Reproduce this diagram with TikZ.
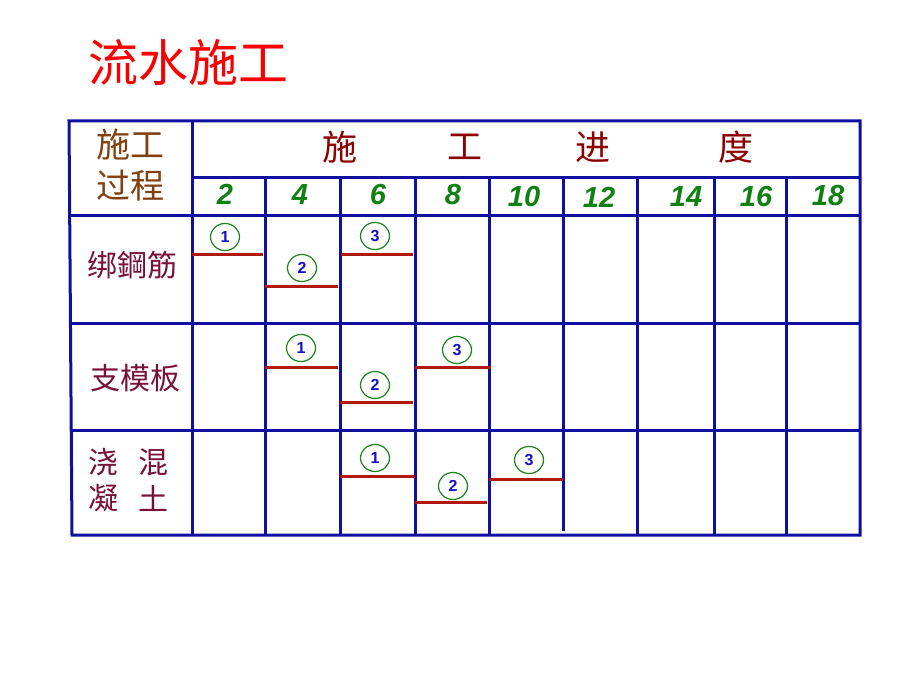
\documentclass[tikz,border=0pt]{standalone}
\usepackage{fontspec}
\setmainfont{Liberation Sans}
\newfontfamily\cjk{Noto Sans CJK SC}
\usetikzlibrary{shapes.geometric}
\definecolor{gridblue}{RGB}{16,16,160}
\definecolor{barred}{RGB}{176,24,16}
\definecolor{numgreen}{RGB}{16,128,16}
\definecolor{hdrbrown}{RGB}{128,64,16}
\definecolor{hdrred}{RGB}{140,0,0}
\definecolor{rowmaroon}{RGB}{120,16,56}
\definecolor{circgreen}{RGB}{30,130,30}
\definecolor{digblue}{RGB}{16,16,200}
\definecolor{titlered}{RGB}{250,0,0}
\begin{document}
\begin{tikzpicture}[x=1pt,y=-1pt,
  gridline/.style={gridblue,line width=3pt},
  bar/.style={barred,line width=3pt},
  num/.style={numgreen,font=\fontsize{29}{30}\selectfont\bfseries\itshape,inner sep=0pt},
  seq/.style={ellipse,draw=circgreen,line width=1.2pt,minimum width=29pt,minimum height=27pt,inner sep=0pt,
    text=digblue,font=\fontsize{16}{17}\selectfont\bfseries},
  hdr/.style={hdrred,font=\fontsize{35}{36}\selectfont\cjk,inner sep=0pt},
  rowlab/.style={rowmaroon,font=\fontsize{30}{31}\selectfont\cjk,inner sep=0pt}]
\useasboundingbox (0,0) rectangle (920,690);

\node[titlered,font=\fontsize{50}{52}\selectfont\cjk,inner sep=0pt] (title) at (188,63) {流水施工};

% grid
\draw[gridline] (69,121) -- (860,121) -- (860,535) -- (72,535) -- cycle;
\draw[gridline] (192,177) -- (860,177);
\draw[gridline] (69,215) -- (860,215);
\draw[gridline] (70,323) -- (860,323);
\draw[gridline] (71,430) -- (860,430);
\draw[gridline] (192,121) -- (192,535);
\foreach \x in {265,340,415,489,637,714,786} \draw[gridline] (\x,177) -- (\x,535);
\draw[gridline] (563,177) -- (563,531);

% headers
\node[hdrbrown,font=\fontsize{34}{36}\selectfont\cjk,inner sep=0pt] (h1) at (130,145) {施工};
\node[hdrbrown,font=\fontsize{34}{36}\selectfont\cjk,inner sep=0pt] (h2) at (130,186) {过程};
\node[hdr] (p1) at (340,147) {施};
\node[hdr] (p2) at (465,147) {工};
\node[hdr] (p3) at (593,147) {进};
\node[hdr] (p4) at (736,147) {度};

\node[num] (n2) at (225,194) {2};
\node[num] (n4) at (300,195) {4};
\node[num] (n6) at (378,195) {6};
\node[num] (n8) at (453,195) {8};
\node[num] (n10) at (524,197) {10};
\node[num] (n12) at (599,197) {12};
\node[num] (n14) at (686,197) {14};
\node[num] (n16) at (756,197) {16};
\node[num] (n18) at (828,196) {18};

% row labels
\node[rowlab] (r1) at (132,265) {绑鋼筋};
\node[rowlab] (r2) at (135,378) {支模板};
\node[rowlab] (r3a) at (103,462) {浇};
\node[rowlab] (r3b) at (153,462) {混};
\node[rowlab] (r3c) at (103,498) {凝};
\node[rowlab] (r3d) at (153,498) {土};

% bars row 1
\draw[bar] (192,254) -- (263,254);
\draw[bar] (265,286) -- (338,286);
\draw[bar] (341,254) -- (413,254);
% row 2
\draw[bar] (265,367) -- (338,367);
\draw[bar] (340,402) -- (413,402);
\draw[bar] (415,367) -- (491,367);
% row 3
\draw[bar] (340,476) -- (415,476);
\draw[bar] (415,502) -- (487,502);
\draw[bar] (489,479) -- (563,479);

% sequence circles
\node[seq] (a1) at (225,237) {1};
\node[seq] (a2) at (302,268) {2};
\node[seq] (a3) at (375,236) {3};
\node[seq] (b1) at (301,348) {1};
\node[seq] (b2) at (375,385) {2};
\node[seq] (b3) at (457,350) {3};
\node[seq] (c1) at (375,458) {1};
\node[seq] (c2) at (453,486) {2};
\node[seq] (c3) at (529,460) {3};
\end{tikzpicture}
\end{document}
